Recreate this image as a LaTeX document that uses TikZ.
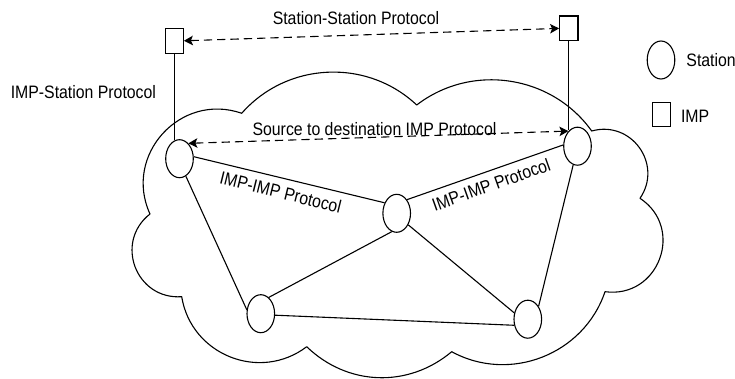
\documentclass[tikz,border=0pt]{standalone}
\usepackage{fontspec}
\setmainfont{Liberation Sans}[FakeStretch=0.88]
\usetikzlibrary{shapes.geometric,arrows.meta}
\begin{document}
\begin{tikzpicture}[x=1pt,y=1pt,
  line width=1.1pt,
  station/.style={draw, ellipse, fill=white, minimum width=27.6pt, minimum height=38pt, inner sep=0pt},
  imp/.style={draw, rectangle, fill=white, minimum width=18.3pt, minimum height=24.7pt, inner sep=0pt},
  lbl/.style={inner sep=0pt, font=\fontsize{18}{21}\selectfont},
  link/.style={line width=1.1pt},
  protoarrow/.style={dash pattern=on 8.3pt off 5pt, {Stealth[length=9pt,width=9.5pt,inset=2pt]}-{Stealth[length=9pt,width=9.5pt,inset=2pt]}}
]
\useasboundingbox (0,0) rectangle (735,378);
% cloud
\coordinate (c1) at (241.7,264.7);
\coordinate (c2) at (416.7,273);
\coordinate (c3) at (591.7,247);
\coordinate (c4) at (640,179.7);
\coordinate (c5) at (605,86.3);
\coordinate (c6) at (451.7,26.3);
\coordinate (c7) at (306.7,31.3);
\coordinate (c8) at (181.7,81.3);
\coordinate (c9) at (150,164);
\draw[line join=round] (c1) to[bend left=46] (c2) to[bend left=46] (c3)
  to[bend left=70,looseness=1.27] (c4) to[bend left=77,looseness=1.39] (c5)
  to[bend left=50,looseness=1.03] (c6) to[bend left=42] (c7)
  to[bend left=59,looseness=1.12] (c8) to[bend left=73,looseness=1.32] (c9)
  to[bend left=67,looseness=1.22] (c1) -- cycle;
% stations and IMPs
\node[station] (lsta) at (179.5,219.3) {};
\node[station] (rsta) at (577.5,231.8) {};
\node[station] (msta) at (396.7,164.7) {};
\node[station] (blsta) at (260.8,64.3) {};
\node[station] (brsta) at (527.8,58.8) {};
\node[imp] (lbox) at (174.2,337.2) {};
\node[imp] (rbox) at (568.8,349.6) {};
% links
\draw[link] (lsta.8) -- (msta.139.5);
\draw[link] (lsta.290) -- (blsta.164);
\draw[link] (blsta.64) -- (msta.255);
\draw[link] (msta.53) -- (rsta.175);
\draw[link] (msta.315) -- (brsta.155);
\draw[link] (blsta.354) -- (brsta.204);
\draw[link] (rsta.257) -- (brsta.50);
\draw[link] (lbox.south) -- (lbox.south |- lsta.104);
\draw[link] (rbox.south) -- (rbox.south |- rsta.117);
% protocol arrows
\draw[protoarrow] (lbox.east) -- (rbox.west);
\draw[protoarrow] (lsta.60) -- (rsta.121);
% labels
\node[lbl, anchor=base west] (ssp) at (272.2,353) {Station-Station Protocol};
\node[lbl, anchor=base west] (isp) at (10.2,279) {IMP-Station Protocol};
\node[lbl, anchor=base west] (sdp) at (252,243) {Source to destination IMP Protocol};
\node[lbl, anchor=base, rotate=-13.85] (iip1) at (279.2,179.7) {IMP-IMP Protocol};
\node[lbl, anchor=base, rotate=19.7] (iip2) at (493.3,187.2) {IMP-IMP Protocol};
% legend
\node[station] (legsta) at (661,318) {};
\node[imp, minimum width=18pt, minimum height=24pt] (legimp) at (661.7,263.3) {};
\node[lbl, anchor=base west] (legstatxt) at (685.9,311.5) {Station};
\node[lbl, anchor=base west] (legimptxt) at (680.5,255.3) {IMP};
\end{tikzpicture}
\end{document}
